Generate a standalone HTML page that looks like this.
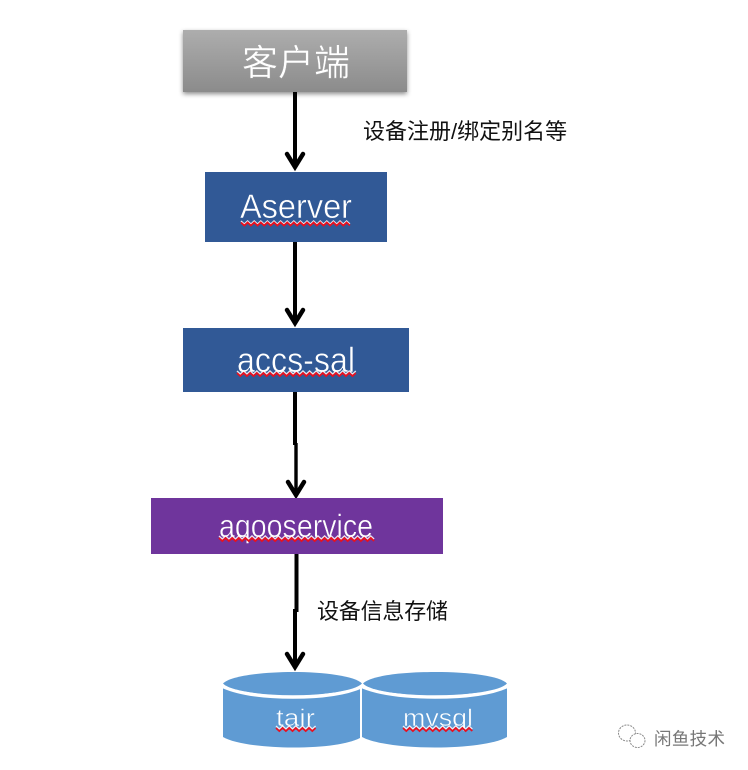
<!DOCTYPE html>
<html><head><meta charset="utf-8"><style>
html,body{margin:0;padding:0;background:#fff;width:748px;height:770px;overflow:hidden}
svg{display:block}
text{font-family:"Liberation Sans","Noto Sans CJK SC",sans-serif}
.w{fill:#fff}
.sq{fill:none;stroke:#e8101f;stroke-width:1.8}
.sw{fill:none;stroke:#fff;stroke-width:1.4;opacity:.85}
.a{fill:none;stroke:#000;stroke-width:4}
.h{fill:none;stroke:#000;stroke-width:4.5;stroke-linecap:round}
</style></head><body>
<svg width="748" height="770" viewBox="0 0 748 770" xmlns="http://www.w3.org/2000/svg">
<defs>
<linearGradient id="g" x1="0" y1="0" x2="0" y2="1"><stop offset="0" stop-color="#adadad"/><stop offset="1" stop-color="#8b8b8b"/></linearGradient>
<filter id="s" x="-10%" y="-20%" width="120%" height="150%"><feDropShadow dx="0" dy="2" stdDeviation="2.500" flood-color="#000" flood-opacity=".45"/></filter>
<path id="z" d="M0 0l3.300 3 3.300-3 3.300 3 3.300-3 3.300 3 3.300-3 3.300 3 3.300-3 3.300 3 3.300-3 3.300 3 3.300-3"/>
</defs>

<!-- connectors -->
<path class="a" d="M295 92V166"/><path class="h" d="M287 154L295 167L303 154"/>
<path class="a" d="M295 242V322"/><path class="h" d="M287 310L295 323L303 310"/>
<path class="a" d="M295 392V445"/><path d="M296 443V492" stroke="#000" stroke-width="3.400" fill="none"/><path class="h" d="M288 482L296 495L304 482"/>
<path class="a" d="M296.500 554V612"/><path class="a" d="M295 609V665"/><path class="h" d="M287 654L295 667L303 654"/>

<!-- nodes -->
<rect x="183" y="30" width="224" height="62" fill="url(#g)" filter="url(#s)"/>
<text x="242" y="75" class="w" font-size="36" stroke="#a0a0a0" stroke-width=".4">客户端</text>

<rect x="205" y="172" width="182" height="70" fill="#315996"/>
<text x="240" y="218" class="w" font-size="34" textLength="112" lengthAdjust="spacingAndGlyphs" stroke="#315996" stroke-width=".5">Aserver</text>
<path class="sw" d="M241 221l3.300 3 3.300-3 3.300 3 3.300-3 3.300 3 3.300-3 3.300 3 3.300-3 3.300 3 3.300-3 3.300 3 3.300-3 3.300 3 3.300-3 3.300 3 3.300-3 3.300 3 3.300-3 3.300 3 3.300-3 3.300 3 3.300-3 3.300 3 3.300-3 3.300 3 3.300-3 3.300 3 3.300-3 3.300 3 3.300-3 3.300 3 3.300-3 3.300 3"/>
<path class="sq" d="M241 222.500l3.300 3 3.300-3 3.300 3 3.300-3 3.300 3 3.300-3 3.300 3 3.300-3 3.300 3 3.300-3 3.300 3 3.300-3 3.300 3 3.300-3 3.300 3 3.300-3 3.300 3 3.300-3 3.300 3 3.300-3 3.300 3 3.300-3 3.300 3 3.300-3 3.300 3 3.300-3 3.300 3 3.300-3 3.300 3 3.300-3 3.300 3 3.300-3 3.300 3"/>

<rect x="183" y="328" width="226" height="64" fill="#315996"/>
<text x="237" y="372" class="w" font-size="35" textLength="118" lengthAdjust="spacingAndGlyphs" stroke="#315996" stroke-width=".5">accs-sal</text>
<path class="sw" d="M237 371l3.300 3 3.300-3 3.300 3 3.300-3 3.300 3 3.300-3 3.300 3 3.300-3 3.300 3 3.300-3 3.300 3 3.300-3 3.300 3 3.300-3 3.300 3 3.300-3 3.300 3 3.300-3 3.300 3 3.300-3 3.300 3 3.300-3 3.300 3 3.300-3 3.300 3 3.300-3 3.300 3 3.300-3 3.300 3 3.300-3 3.300 3 3.300-3 3.300 3 3.300-3 3.300 3 3.300-3"/>
<path class="sq" d="M237 373l3.300 3 3.300-3 3.300 3 3.300-3 3.300 3 3.300-3 3.300 3 3.300-3 3.300 3 3.300-3 3.300 3 3.300-3 3.300 3 3.300-3 3.300 3 3.300-3 3.300 3 3.300-3 3.300 3 3.300-3 3.300 3 3.300-3 3.300 3 3.300-3 3.300 3 3.300-3 3.300 3 3.300-3 3.300 3 3.300-3 3.300 3 3.300-3 3.300 3 3.300-3 3.300 3 3.300-3"/>

<rect x="151" y="498" width="292" height="56" fill="#6f359c"/>
<text x="219" y="537" class="w" font-size="32" textLength="154" lengthAdjust="spacingAndGlyphs" stroke="#6f359c" stroke-width=".5">aqooservice</text>
<path class="sw" d="M219 536l3.300 3 3.300-3 3.300 3 3.300-3 3.300 3 3.300-3 3.300 3 3.300-3 3.300 3 3.300-3 3.300 3 3.300-3 3.300 3 3.300-3 3.300 3 3.300-3 3.300 3 3.300-3 3.300 3 3.300-3 3.300 3 3.300-3 3.300 3 3.300-3 3.300 3 3.300-3 3.300 3 3.300-3 3.300 3 3.300-3 3.300 3 3.300-3 3.300 3 3.300-3 3.300 3 3.300-3 3.300 3 3.300-3 3.300 3 3.300-3 3.300 3 3.300-3 3.300 3 3.300-3 3.300 3 3.300-3 3.300 3"/>
<path class="sq" d="M219 538l3.300 3 3.300-3 3.300 3 3.300-3 3.300 3 3.300-3 3.300 3 3.300-3 3.300 3 3.300-3 3.300 3 3.300-3 3.300 3 3.300-3 3.300 3 3.300-3 3.300 3 3.300-3 3.300 3 3.300-3 3.300 3 3.300-3 3.300 3 3.300-3 3.300 3 3.300-3 3.300 3 3.300-3 3.300 3 3.300-3 3.300 3 3.300-3 3.300 3 3.300-3 3.300 3 3.300-3 3.300 3 3.300-3 3.300 3 3.300-3 3.300 3 3.300-3 3.300 3 3.300-3 3.300 3 3.300-3 3.300 3"/>

<!-- tair cylinder -->
<path d="M223 688V737C235 744 265 747.500 293 747.500C325 747.500 348 744 360 738V688Z" fill="#5f9bd3"/>
<path d="M223 686.500C240 694 265 697 293 697C320 697 345 694 362 686.500" fill="none" stroke="#fff" stroke-width="3.500"/>
<path d="M223 683.500C230 676 262 672 293 672C324 672 355 676 362 683.500C355 691 324 695 293 695C262 695 230 691 223 683.500Z" fill="#5f9bd3"/>
<!-- mysql cylinder -->
<path d="M362 688V737C375 744 405 747.500 435 747.500C465 747.500 495 744 507 737V688Z" fill="#5f9bd3"/>
<path d="M362 686.500C380 694 405 697 435 697C465 697 490 694 507 686.500" fill="none" stroke="#fff" stroke-width="3.500"/>
<path d="M363 683.500C370 676 400 672 435 672C470 672 500 676 507 683.500C500 691 470 695 435 695C400 695 370 691 363 683.500Z" fill="#5f9bd3"/>
<path d="M361 688V740" stroke="#fff" stroke-width="2" fill="none"/>

<text x="276" y="726" class="w" font-size="24" textLength="39" lengthAdjust="spacingAndGlyphs" stroke="#5f9bd3" stroke-width=".5">tair</text>
<path class="sw" d="M276 726l3.300 3 3.300-3 3.300 3 3.300-3 3.300 3 3.300-3 3.300 3 3.300-3 3.300 3 3.300-3 3.300 3 3.300-3"/>
<path class="sq" d="M276 728l3.300 3 3.300-3 3.300 3 3.300-3 3.300 3 3.300-3 3.300 3 3.300-3 3.300 3 3.300-3 3.300 3 3.300-3"/>
<text x="403" y="726" class="w" font-size="24" textLength="70" lengthAdjust="spacingAndGlyphs" stroke="#5f9bd3" stroke-width=".5">mvsql</text>
<path class="sw" d="M403 726l3.300 3 3.300-3 3.300 3 3.300-3 3.300 3 3.300-3 3.300 3 3.300-3 3.300 3 3.300-3 3.300 3 3.300-3 3.300 3 3.300-3 3.300 3 3.300-3 3.300 3 3.300-3 3.300 3 3.300-3 3.300 3"/>
<path class="sq" d="M403 728l3.300 3 3.300-3 3.300 3 3.300-3 3.300 3 3.300-3 3.300 3 3.300-3 3.300 3 3.300-3 3.300 3 3.300-3 3.300 3 3.300-3 3.300 3 3.300-3 3.300 3 3.300-3 3.300 3 3.300-3 3.300 3"/>

<!-- labels -->
<text x="363" y="139" font-size="22" fill="#111">设备注册/绑定别名等</text>
<text x="317" y="619" font-size="22" fill="#111" textLength="131">设备信息存储</text>

<!-- watermark -->
<g fill="#fff" stroke="#8a8a8a" stroke-width="1" stroke-dasharray="2 1">
<ellipse cx="627" cy="733" rx="8.500" ry="8"/>
<ellipse cx="637.500" cy="740.500" rx="7.500" ry="7"/>
</g>
<text x="654" y="745" font-size="17.500" fill="#777" textLength="71">闲鱼技术</text>
</svg>
</body></html>
